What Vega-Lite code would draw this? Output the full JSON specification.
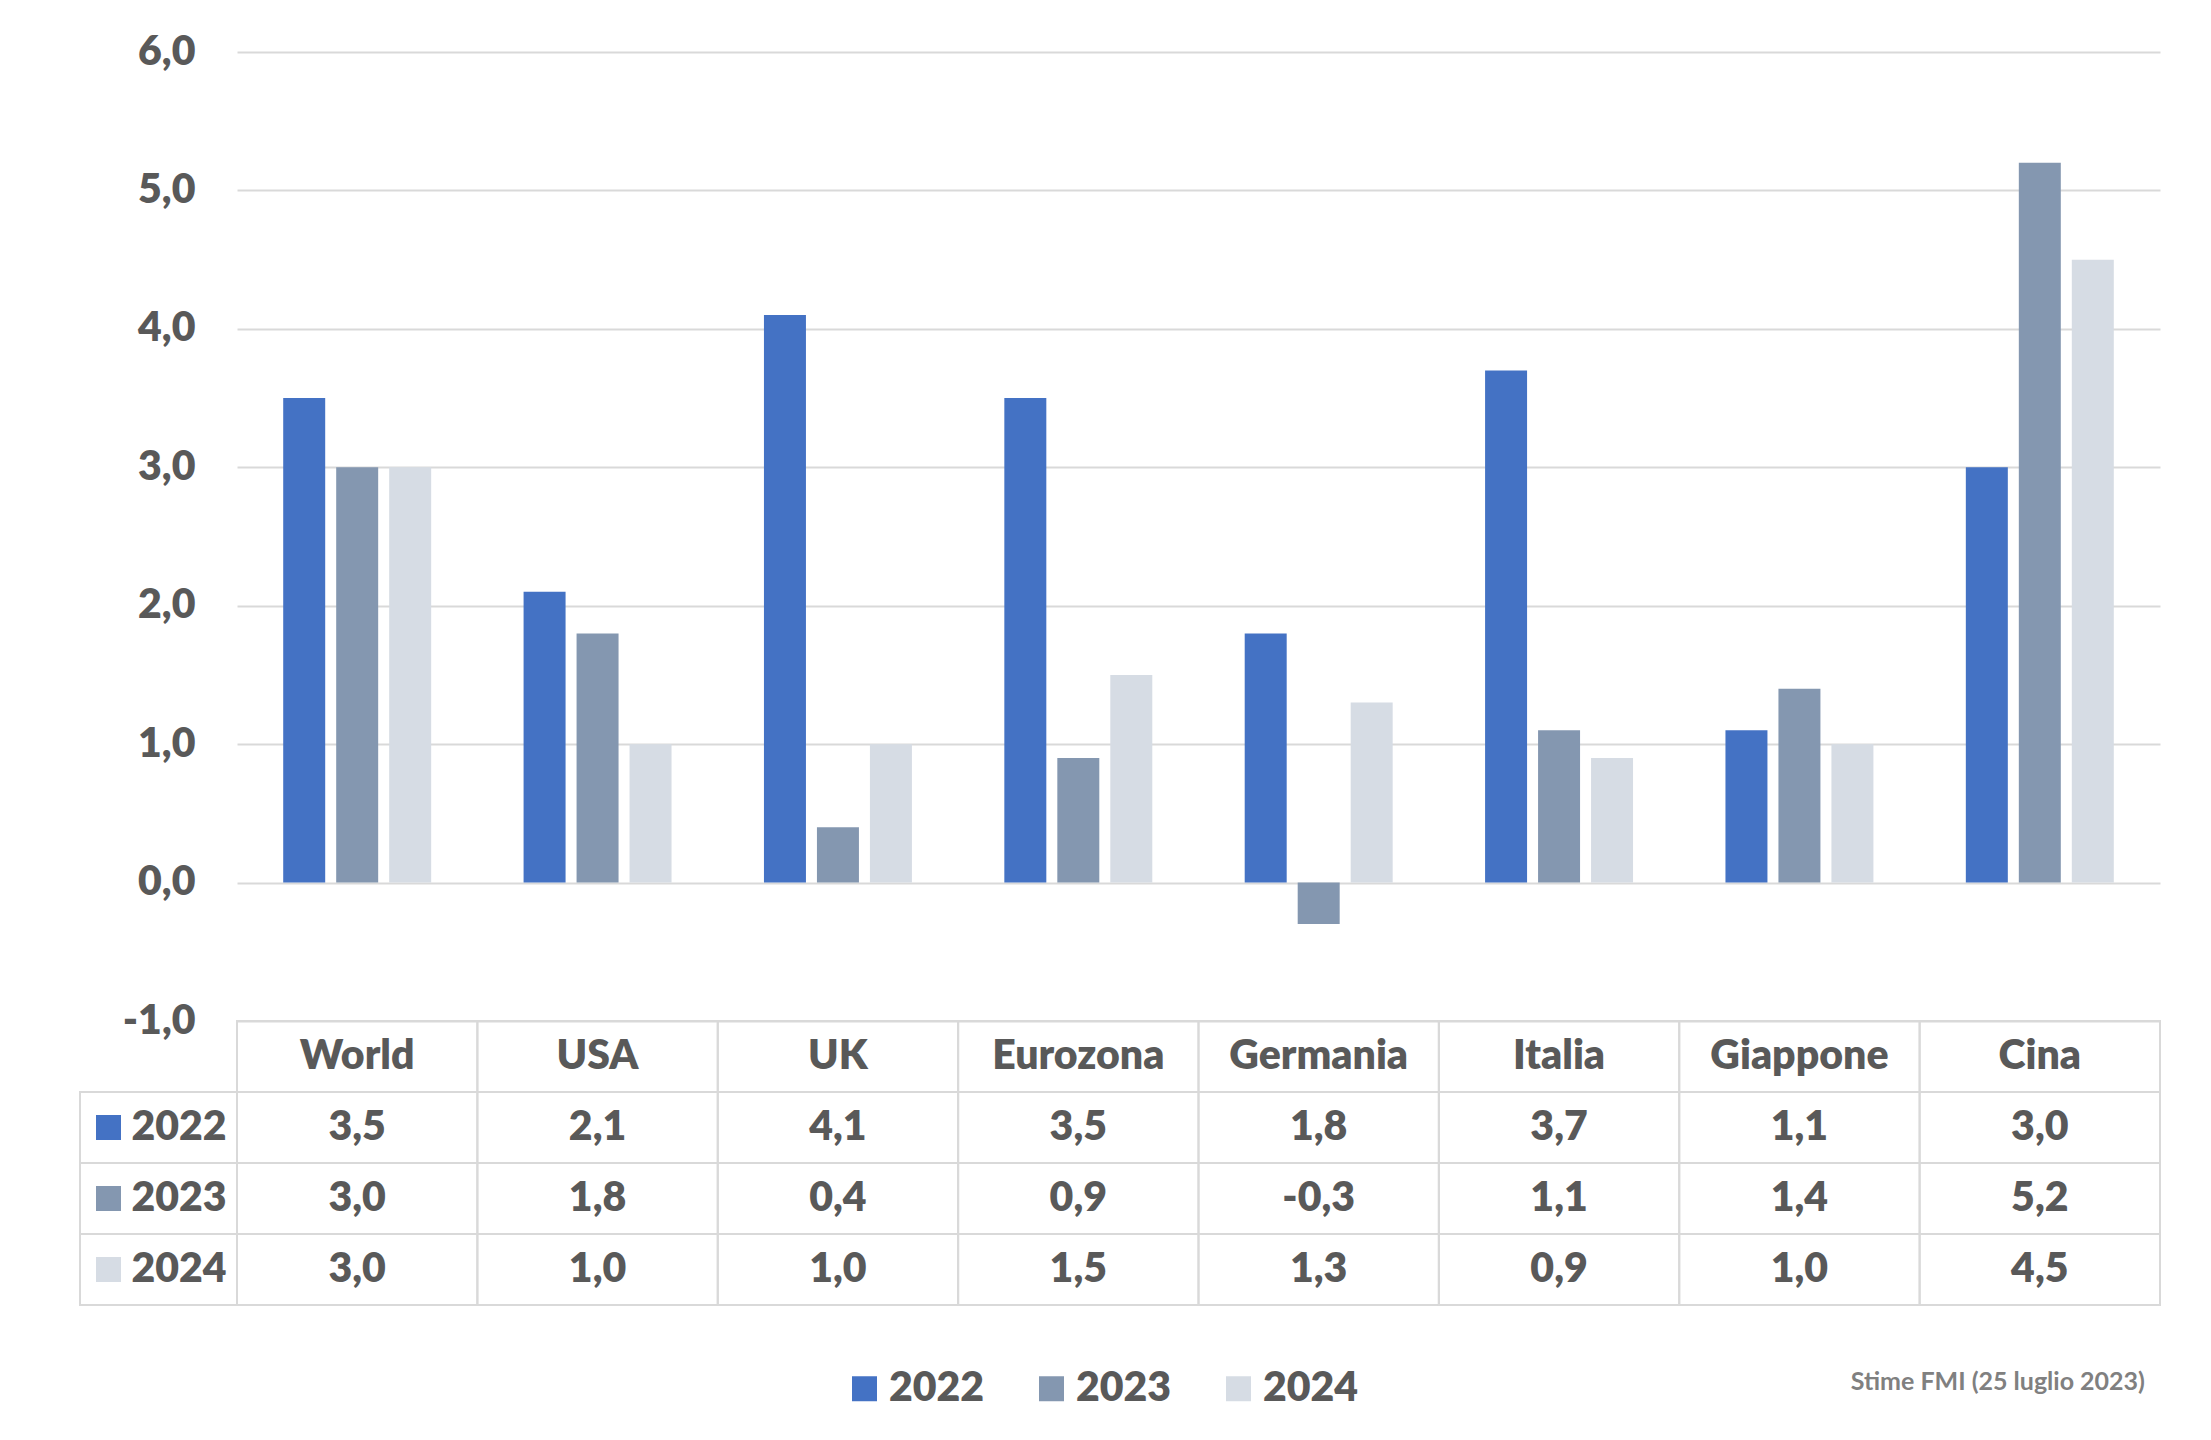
{
  "$schema": "https://vega.github.io/schema/vega-lite/v6.json",
  "description": "Crescita del PIL 2022-2024, stime FMI luglio 2023, con tabella dati",
  "background": "white",
  "padding": {"left": 79, "top": 31, "right": 52, "bottom": 30},
  "bounds": "flush",
  "config": {
    "font": "Lato",
    "view": {"stroke": null},
    "locale": {"number": {"decimal": ",", "thousands": ".", "grouping": [3], "currency": ["", " €"], "minus": "-"}}
  },
  "data": {
    "values": [
      {"paese": "World", "anno": "2022", "valore": 3.5},
      {"paese": "USA", "anno": "2022", "valore": 2.1},
      {"paese": "UK", "anno": "2022", "valore": 4.1},
      {"paese": "Eurozona", "anno": "2022", "valore": 3.5},
      {"paese": "Germania", "anno": "2022", "valore": 1.8},
      {"paese": "Italia", "anno": "2022", "valore": 3.7},
      {"paese": "Giappone", "anno": "2022", "valore": 1.1},
      {"paese": "Cina", "anno": "2022", "valore": 3.0},
      {"paese": "World", "anno": "2023", "valore": 3.0},
      {"paese": "USA", "anno": "2023", "valore": 1.8},
      {"paese": "UK", "anno": "2023", "valore": 0.4},
      {"paese": "Eurozona", "anno": "2023", "valore": 0.9},
      {"paese": "Germania", "anno": "2023", "valore": -0.3},
      {"paese": "Italia", "anno": "2023", "valore": 1.1},
      {"paese": "Giappone", "anno": "2023", "valore": 1.4},
      {"paese": "Cina", "anno": "2023", "valore": 5.2},
      {"paese": "World", "anno": "2024", "valore": 3.0},
      {"paese": "USA", "anno": "2024", "valore": 1.0},
      {"paese": "UK", "anno": "2024", "valore": 1.0},
      {"paese": "Eurozona", "anno": "2024", "valore": 1.5},
      {"paese": "Germania", "anno": "2024", "valore": 1.3},
      {"paese": "Italia", "anno": "2024", "valore": 0.9},
      {"paese": "Giappone", "anno": "2024", "valore": 1.0},
      {"paese": "Cina", "anno": "2024", "valore": 4.5}
    ]
  },
  "spacing": 0,
  "vconcat": [
    {
      "width": 1923,
      "height": 969,
      "mark": {"type": "bar"},
      "encoding": {
        "x": {
          "field": "paese",
          "type": "nominal",
          "sort": ["World", "USA", "UK", "Eurozona", "Germania", "Italia", "Giappone", "Cina"],
          "scale": {"paddingInner": 0, "paddingOuter": 0},
          "axis": null
        },
        "xOffset": {
          "field": "anno",
          "type": "nominal",
          "scale": {"paddingInner": 0.2075, "paddingOuter": 0.872}
        },
        "y": {
          "field": "valore",
          "type": "quantitative",
          "scale": {"domain": [-1, 6], "nice": false},
          "axis": {
            "title": null,
            "values": [-1, 0, 1, 2, 3, 4, 5, 6],
            "format": ".1f",
            "domain": false,
            "ticks": false,
            "labelPadding": 42,
            "gridColor": "#d9d9d9",
            "gridWidth": 2,
            "labelFontSize": 41,
            "labelFontWeight": 800,
            "labelColor": "#595959"
          }
        },
        "color": {
          "field": "anno",
          "type": "nominal",
          "scale": {"domain": ["2022", "2023", "2024"], "range": ["#4472C4", "#8497B0", "#D6DCE4"]},
          "legend": {
            "title": null,
            "orient": "none",
            "direction": "horizontal",
            "legendX": 607,
            "legendY": 1316,
            "symbolType": "square",
            "symbolSize": 625,
            "symbolStrokeWidth": 0,
            "labelFontSize": 41,
            "labelFontWeight": 800,
            "labelColor": "#595959",
            "labelOffset": 4,
            "columnPadding": 46
          }
        }
      }
    },
    {
      "width": 1923,
      "height": 284,
      "title": {
        "text": "Stime FMI (25 luglio 2023)",
        "orient": "bottom",
        "anchor": "end",
        "offset": 64,
        "dx": -16,
        "fontSize": 25,
        "fontWeight": "bold",
        "color": "#808080"
      },
      "resolve": {"scale": {"x": "independent"}},
      "layer": [
        {
          "mark": {"type": "rect", "filled": false, "stroke": "#d9d9d9", "strokeWidth": 2},
          "encoding": {
            "x": {"field": "paese", "type": "nominal", "sort": ["World", "USA", "UK", "Eurozona", "Germania", "Italia", "Giappone", "Cina"], "scale": {"paddingInner": 0, "paddingOuter": 0}, "axis": null},
            "y": {"field": "anno", "type": "nominal", "scale": {"domain": ["head", "2022", "2023", "2024"], "paddingInner": 0, "paddingOuter": 0}, "axis": null}
          }
        },
        {
          "transform": [{"aggregate": [{"op": "count", "as": "n"}], "groupby": ["paese"]}],
          "mark": {"type": "rect", "filled": false, "stroke": "#d9d9d9", "strokeWidth": 2},
          "encoding": {
            "x": {"field": "paese", "type": "nominal", "sort": ["World", "USA", "UK", "Eurozona", "Germania", "Italia", "Giappone", "Cina"], "scale": {"paddingInner": 0, "paddingOuter": 0}, "axis": null},
            "y": {"datum": "head", "type": "nominal", "axis": null}
          }
        },
        {
          "transform": [{"aggregate": [{"op": "count", "as": "n"}], "groupby": ["paese"]}],
          "mark": {"type": "text", "fontSize": 41, "fontWeight": 800, "color": "#595959"},
          "encoding": {
            "x": {"field": "paese", "type": "nominal", "sort": ["World", "USA", "UK", "Eurozona", "Germania", "Italia", "Giappone", "Cina"], "scale": {"paddingInner": 0, "paddingOuter": 0}, "axis": null},
            "y": {"datum": "head", "type": "nominal", "axis": null},
            "text": {"field": "paese"}
          }
        },
        {
          "mark": {"type": "text", "fontSize": 41, "fontWeight": 800, "color": "#595959"},
          "encoding": {
            "x": {"field": "paese", "type": "nominal", "sort": ["World", "USA", "UK", "Eurozona", "Germania", "Italia", "Giappone", "Cina"], "scale": {"paddingInner": 0, "paddingOuter": 0}, "axis": null},
            "y": {"field": "anno", "type": "nominal", "axis": null},
            "text": {"field": "valore", "type": "quantitative", "format": ".1f"}
          }
        },
        {
          "transform": [{"aggregate": [{"op": "count", "as": "n"}], "groupby": ["anno"]}],
          "mark": {"type": "rect", "filled": false, "stroke": "#d9d9d9", "strokeWidth": 2},
          "encoding": {
            "x": {"datum": "serie", "type": "nominal", "scale": {"type": "band", "range": [-157, 0], "paddingInner": 0, "paddingOuter": 0}, "axis": null},
            "y": {"field": "anno", "type": "nominal", "axis": null}
          }
        },
        {
          "transform": [{"aggregate": [{"op": "count", "as": "n"}], "groupby": ["anno"]}],
          "mark": {"type": "point", "shape": "square", "filled": true, "size": 625, "opacity": 1, "xOffset": -50},
          "encoding": {
            "x": {"datum": "serie", "type": "nominal", "scale": {"type": "band", "range": [-157, 0], "paddingInner": 0, "paddingOuter": 0}, "axis": null},
            "y": {"field": "anno", "type": "nominal", "axis": null},
            "color": {"field": "anno", "type": "nominal", "scale": {"domain": ["2022", "2023", "2024"], "range": ["#4472C4", "#8497B0", "#D6DCE4"]}, "legend": null}
          }
        },
        {
          "transform": [{"aggregate": [{"op": "count", "as": "n"}], "groupby": ["anno"]}],
          "mark": {"type": "text", "align": "left", "dx": -27, "fontSize": 41, "fontWeight": 800, "color": "#595959"},
          "encoding": {
            "x": {"datum": "serie", "type": "nominal", "scale": {"type": "band", "range": [-157, 0], "paddingInner": 0, "paddingOuter": 0}, "axis": null},
            "y": {"field": "anno", "type": "nominal", "axis": null},
            "text": {"field": "anno"}
          }
        }
      ]
    }
  ]
}
